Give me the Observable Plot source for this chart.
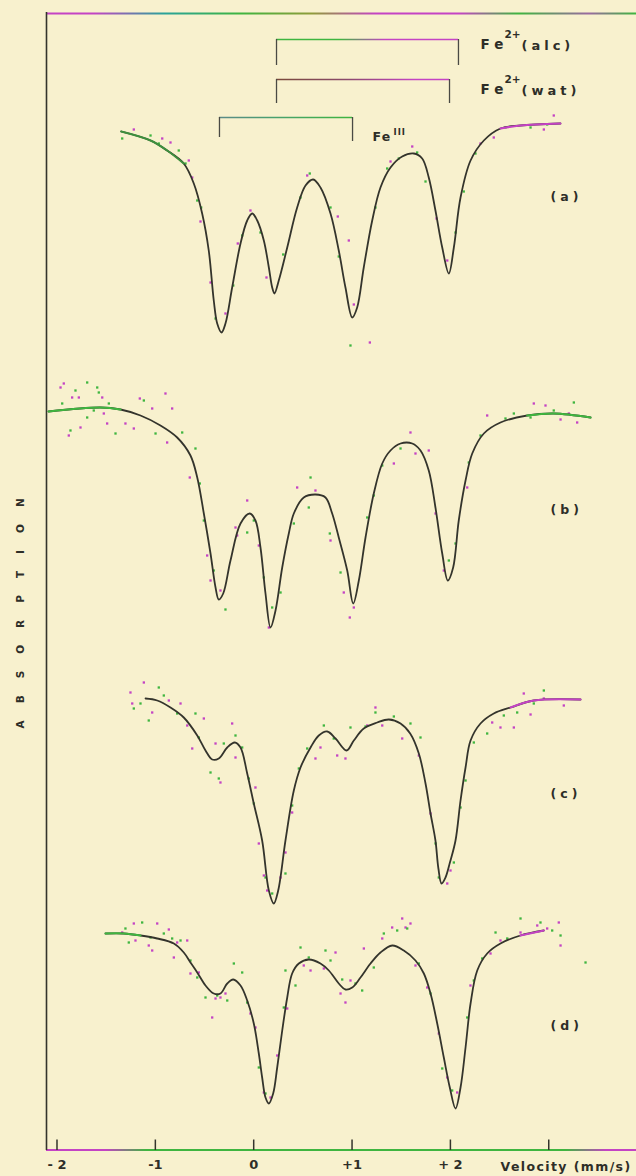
<!DOCTYPE html>
<html><head><meta charset="utf-8">
<script src="https://cdn.jsdelivr.net/npm/d3@7"></script>
<script src="https://cdn.jsdelivr.net/npm/@observablehq/plot@0.6"></script>
<style>
html,body{margin:0;padding:0;background:#f8f1ce;}
#chart svg{display:block;}
</style></head>
<body><div id="chart"></div>
<script>
// ---- axis ticks (velocity, mm/s)
const velocityTicks = [-2, -1, 0, 1, 2, 3];
const tickLabels = ["- 2", "-1", "0", "+1", "+ 2", ""];
const spectrumLabels = ["(a)", "(b)", "(c)", "(d)"];
const spectrumLabelY = [95.4, 64.1, 35.7, 12.45];

// ---- site brackets (velocity of the two lines, bar level, drop level)
const siteBase = ["Fe", "Fe", "Fe"];
const siteSup = ["2+", "2+", "III"];
const siteTail = ["(alc)", "(wat)", ""];
const siteLeft = [0.232, 0.232, -0.348];
const siteRight = [2.082, 1.991, 1.005];
const siteLevel = [111.1, 107.1, 103.3];
const siteDropLeft = [108.5, 104.7, 101.3];
const siteDropRight = [108.5, 104.7, 100.9];
const siteLabelV = [2.306, 2.306, 1.208];
const siteLabelY = [110.15, 105.67, 100.93];

// ---- fitted curves [velocity, absorption (stacked arb. units)]
const fitA = [[-1.347,101.9],[-1.049,101.0],[-0.880,100.0],[-0.711,98.7],[-0.609,96.7],[-0.524,93.7],[-0.457,90.0],[-0.406,85.0],[-0.371,82.7],[-0.327,81.8],[-0.287,82.7],[-0.219,86.3],[-0.134,90.7],[-0.066,93.0],[-0.015,93.7],[0.036,93.0],[0.103,91.0],[0.154,88.3],[0.188,86.3],[0.211,85.7],[0.255,87.0],[0.341,90.3],[0.442,94.3],[0.527,96.5],[0.605,97.1],[0.679,96.3],[0.781,93.7],[0.865,90.0],[0.933,86.3],[1.002,83.3],[1.052,84.3],[1.119,88.3],[1.205,93.0],[1.289,96.3],[1.391,98.3],[1.510,99.4],[1.628,99.7],[1.713,99.2],[1.780,97.3],[1.848,94.0],[1.917,90.3],[1.984,87.7],[2.035,90.3],[2.103,95.3],[2.205,99.0],[2.340,101.0],[2.509,102.2],[2.712,102.5],[3.119,102.7]];
const fitB = [[-2.086,73.9],[-1.558,74.3],[-1.354,74.1],[-1.151,73.5],[-0.948,72.5],[-0.778,71.3],[-0.643,69.5],[-0.574,67.3],[-0.507,63.7],[-0.439,59.7],[-0.388,56.3],[-0.355,55.1],[-0.310,55.7],[-0.236,59.0],[-0.134,62.7],[-0.040,63.7],[0.018,63.0],[0.069,60.3],[0.120,55.7],[0.171,52.3],[0.222,54.0],[0.290,58.3],[0.357,61.7],[0.408,63.7],[0.509,65.3],[0.628,65.6],[0.730,65.3],[0.798,63.7],[0.865,61.3],[0.951,58.0],[1.012,54.7],[1.069,57.0],[1.137,61.3],[1.221,65.7],[1.307,68.7],[1.391,70.0],[1.493,70.7],[1.612,70.7],[1.696,70.0],[1.780,68.0],[1.848,64.3],[1.917,59.7],[1.974,57.0],[2.028,58.3],[2.085,63.0],[2.154,67.0],[2.222,69.7],[2.340,71.7],[2.509,72.8],[2.781,73.5],[3.051,73.7],[3.425,73.3]];
const fitC = [[-1.100,45.2],[-0.981,45.0],[-0.846,44.3],[-0.711,43.3],[-0.574,41.5],[-0.490,40.0],[-0.422,39.1],[-0.355,39.2],[-0.269,40.3],[-0.192,40.8],[-0.134,40.3],[-0.066,37.7],[0.001,34.7],[0.086,31.0],[0.154,26.0],[0.204,24.7],[0.249,26.0],[0.323,31.0],[0.408,36.0],[0.476,38.3],[0.578,40.3],[0.662,41.5],[0.747,41.9],[0.832,41.2],[0.944,40.0],[1.018,41.0],[1.119,42.2],[1.256,42.8],[1.374,43.1],[1.493,42.7],[1.591,41.7],[1.679,39.7],[1.747,36.7],[1.798,33.7],[1.848,31.0],[1.878,28.2],[1.910,26.7],[1.950,27.3],[1.995,28.8],[2.052,31.0],[2.103,35.0],[2.154,38.3],[2.205,41.0],[2.306,42.7],[2.441,43.7],[2.611,44.3],[2.848,45.0],[3.323,45.1]];
const fitD = [[-1.507,21.7],[-1.321,21.7],[-1.151,21.5],[-0.981,21.2],[-0.812,20.7],[-0.711,19.8],[-0.643,18.8],[-0.574,17.8],[-0.490,16.5],[-0.406,15.7],[-0.338,15.7],[-0.269,16.7],[-0.208,17.1],[-0.134,16.5],[-0.066,15.0],[0.001,12.7],[0.052,9.7],[0.086,7.3],[0.120,5.3],[0.154,4.7],[0.198,5.7],[0.239,8.3],[0.290,12.0],[0.341,15.3],[0.391,17.7],[0.459,18.7],[0.560,19.1],[0.679,18.7],[0.764,18.0],[0.865,16.7],[0.933,16.1],[1.002,16.3],[1.086,17.3],[1.188,18.7],[1.289,19.8],[1.408,20.5],[1.526,20.0],[1.645,19.0],[1.730,17.7],[1.798,15.7],[1.866,12.7],[1.933,9.3],[1.994,6.3],[2.052,4.2],[2.103,6.3],[2.154,10.3],[2.205,14.7],[2.273,18.0],[2.374,19.7],[2.509,20.7],[2.712,21.5],[2.950,22.0]];

// ---- measured points (two halves of the spectrum: magenta / green)
const dotsA_m = [[-1.219,102.1],[-0.930,101.2],[-0.846,100.8],[-0.660,99.0],[-0.625,97.3],[-0.541,92.9],[-0.439,86.8],[-0.287,83.7],[-0.162,90.7],[-0.033,94.0],[0.130,87.3],[0.544,97.5],[0.855,93.4],[0.967,91.0],[1.018,84.6],[1.181,80.8],[1.391,98.9],[1.612,100.4],[1.859,93.2],[1.968,89.0],[2.306,100.7],[2.441,101.3],[2.950,102.1],[3.051,103.5]];
const dotsA_g = [[-1.337,101.2],[-1.049,101.5],[-0.965,100.7],[-0.762,100.0],[-0.693,98.7],[-0.574,95.0],[-0.534,94.3],[-0.388,83.2],[-0.208,86.5],[-0.117,91.5],[0.069,91.8],[0.300,89.6],[0.476,95.3],[0.570,97.7],[0.781,94.3],[0.865,89.4],[0.984,80.5],[1.238,94.3],[1.357,98.2],[1.475,99.2],[1.662,99.8],[1.747,96.9],[2.052,91.8],[2.136,95.9],[2.255,99.7],[2.560,102.3],[2.815,102.3],[2.984,102.6]];
const dotsB_m = [[-1.964,76.3],[-1.931,76.7],[-1.846,75.3],[-1.778,75.3],[-1.540,75.3],[-1.524,73.7],[-1.490,72.7],[-1.761,72.3],[-1.880,71.5],[-1.304,72.7],[-1.219,72.2],[-1.158,75.2],[-1.032,74.2],[-0.897,75.7],[-0.829,74.2],[-0.880,70.8],[-0.650,67.3],[-0.473,59.5],[-0.439,57.0],[-0.338,56.0],[-0.185,62.3],[-0.168,61.5],[-0.066,65.0],[0.052,60.5],[0.154,52.3],[0.442,66.3],[0.628,66.0],[0.781,61.0],[0.916,55.8],[0.977,53.3],[1.018,54.3],[1.425,68.7],[1.594,71.8],[1.645,69.7],[1.780,70.0],[1.849,63.7],[1.933,58.0],[2.171,66.3],[2.374,73.5],[2.848,74.7],[2.967,74.5],[3.120,73.1],[3.289,72.8],[3.204,73.7]];
const dotsB_g = [[-1.947,74.7],[-1.812,76.0],[-1.693,76.8],[-1.591,76.3],[-1.575,75.8],[-1.693,73.3],[-1.626,74.0],[-1.863,72.0],[-1.405,71.7],[-1.473,74.7],[-1.117,75.0],[-0.998,71.7],[-0.727,71.8],[-0.592,70.2],[-0.548,66.7],[-0.507,63.0],[-0.406,58.0],[-0.287,54.1],[-0.066,61.8],[0.001,63.0],[0.103,57.3],[0.188,54.3],[0.273,55.8],[0.408,62.7],[0.578,67.3],[0.560,64.3],[0.774,61.7],[0.883,57.8],[1.154,63.3],[1.221,65.5],[1.307,68.5],[1.493,70.2],[1.984,59.0],[2.052,60.7],[2.187,68.8],[2.306,71.5],[2.560,73.2],[2.645,73.7],[2.815,73.3],[3.051,74.0],[3.255,74.8]];
const dotsC_m = [[-1.253,45.8],[-1.235,44.7],[-1.117,46.8],[-1.032,43.8],[-0.863,45.0],[-0.744,44.7],[-0.676,42.5],[-0.625,40.2],[-0.507,43.2],[-0.388,40.7],[-0.338,36.8],[-0.219,42.7],[-0.185,39.3],[0.018,36.3],[0.052,30.7],[0.103,27.5],[0.137,26.0],[0.273,27.3],[0.323,29.8],[0.391,33.8],[0.628,39.2],[0.679,40.3],[0.849,39.5],[0.933,39.2],[1.154,42.5],[1.238,44.3],[1.307,42.5],[1.510,41.2],[1.679,39.5],[1.798,33.7],[1.968,26.7],[2.001,28.0],[2.425,42.8],[2.509,42.3],[2.645,42.3],[2.746,45.7],[2.815,43.6],[2.950,45.2],[3.153,44.5]];
const dotsC_g = [[-1.219,44.2],[-1.151,44.7],[-1.067,43.0],[-0.965,46.3],[-0.914,45.5],[-0.778,43.7],[-0.592,43.7],[-0.558,41.3],[-0.439,37.8],[-0.355,37.2],[-0.304,40.7],[-0.185,41.5],[-0.117,40.3],[-0.050,37.2],[0.001,34.7],[0.120,27.3],[0.188,25.7],[0.323,27.7],[0.391,34.5],[0.459,38.2],[0.544,40.2],[0.713,42.5],[0.814,41.2],[0.984,42.3],[1.137,42.4],[1.238,43.8],[1.425,43.4],[1.594,42.7],[1.696,41.3],[1.849,30.7],[1.882,27.3],[2.035,28.8],[2.103,34.3],[2.154,37.0],[2.238,40.8],[2.374,41.7],[2.543,43.5],[2.679,43.8],[2.848,44.7],[2.950,46.0]];
const dotsD_m = [[-1.337,21.8],[-1.219,22.7],[-1.202,21.0],[-1.067,20.5],[-1.032,20.0],[-0.981,22.7],[-0.863,22.1],[-0.778,20.8],[-0.676,21.0],[-0.812,19.3],[-0.643,17.7],[-0.558,17.8],[-0.422,13.3],[-0.388,15.2],[-0.338,15.3],[-0.287,15.7],[-0.033,13.7],[0.018,12.3],[0.103,5.8],[0.171,5.3],[0.239,9.5],[0.341,14.2],[0.509,18.5],[0.578,18.0],[0.713,18.2],[0.832,19.8],[0.883,15.7],[0.933,14.8],[0.984,17.0],[1.120,20.2],[1.307,21.2],[1.408,22.3],[1.510,23.2],[1.544,22.3],[1.594,22.7],[1.645,18.5],[1.764,16.3],[1.882,11.7],[1.968,7.3],[2.069,5.8],[2.204,16.5],[2.408,19.7],[2.509,21.0],[2.713,21.8],[2.883,22.5],[2.984,22.2],[3.102,22.8],[3.120,20.5]];
const dotsD_g = [[-1.304,22.2],[-1.270,20.8],[-1.134,22.8],[-1.049,21.3],[-0.914,21.7],[-0.829,21.2],[-0.744,21.0],[-0.643,19.0],[-0.574,17.3],[-0.490,15.3],[-0.371,15.5],[-0.269,15.0],[-0.202,18.7],[-0.117,17.8],[-0.066,14.8],[0.052,8.3],[0.120,5.7],[0.306,14.3],[0.323,18.0],[0.425,16.5],[0.476,20.3],[0.560,19.3],[0.730,20.0],[0.781,19.0],[0.900,17.1],[1.035,16.7],[1.103,16.0],[1.221,18.3],[1.323,21.7],[1.459,22.0],[1.561,22.2],[1.679,18.7],[1.798,15.7],[1.917,8.2],[2.018,6.0],[2.171,13.3],[2.238,17.0],[2.323,19.2],[2.459,21.8],[2.578,21.2],[2.713,23.2],[2.916,22.8],[3.035,22.0],[3.120,21.5],[3.374,18.8]];

// ---------------------------------------------------------------
const MAG = "#c443c4", GRN = "#3fb53f", INK = "#34342c";
const FONT = "DejaVu Sans";
const xDomain = [-2.1067, 3.8922];
const yDomain = [0, 113.8];
const fits = [fitA, fitB, fitC, fitD];
const dotsM = [].concat(dotsA_m, dotsB_m, dotsC_m, dotsD_m);
const dotsG = [].concat(dotsA_g, dotsB_g, dotsC_g, dotsD_g);
const X = d => d[0], Y = d => d[1];
const idx = siteBase.map((_, i) => i);
// pen colour at curve ends (recorder pen)
const pens = [
  {fit: fitA, lo: -0.711, loC: "#3e8f3e", hi: 2.509, hiC: MAG},
  {fit: fitB, lo: -1.354, loC: GRN, hi: 2.781, hiC: GRN},
  {fit: fitC, lo: -9, loC: GRN, hi: 2.611, hiC: MAG},
  {fit: fitD, lo: -1.151, loC: GRN, hi: 2.712, hiC: MAG}
];
const penMarks = [];
for (const p of pens) {
  const L = p.fit.filter(d => d[0] <= p.lo), R = p.fit.filter(d => d[0] >= p.hi);
  if (L.length > 1) penMarks.push(Plot.line(L, {x: X, y: Y, stroke: p.loC, strokeWidth: 2, curve: "catmull-rom"}));
  if (R.length > 1) penMarks.push(Plot.line(R, {x: X, y: Y, stroke: p.hiC, strokeWidth: 2, curve: "catmull-rom"}));
}
const i2 = [0, 1], i3 = [2];

const chart = Plot.plot({
  width: 636, height: 1176,
  marginLeft: 46, marginRight: 0, marginTop: 12, marginBottom: 26,
  style: {background: "#f8f1ce", fontFamily: FONT, color: "#2e2e28"},
  x: {domain: xDomain, axis: null},
  y: {domain: yDomain, axis: null},
  marks: [
    // frame
    Plot.ruleY([yDomain[1] - 0.1], {x1: xDomain[0], x2: xDomain[1], stroke: "url(#topGrad)", strokeWidth: 2}),
    Plot.ruleY([0.05], {x1: xDomain[0], x2: xDomain[1], stroke: "url(#botGrad)", strokeWidth: 2}),
    Plot.ruleX([xDomain[0]], {y1: 0, y2: yDomain[1], stroke: INK, strokeWidth: 1.6}),
    Plot.ruleX(velocityTicks, {y1: 0, y2: 1.05, stroke: INK, strokeWidth: 1.5}),
    Plot.text(velocityTicks, {x: d => d, y: 0, text: (d, i) => tickLabels[i], dy: 14, fontSize: 13, fontWeight: "bold", fill: "#2e2e28"}),
    Plot.text(["Velocity (mm/s)"], {x: 2.51, y: -1.6, text: d => d, textAnchor: "start", fontSize: 12.5, fontWeight: "bold", fill: "#2e2e28"}),
    Plot.text(["ABSORPTION"], {x: -2.371, y: 42.2, text: d => d, rotate: -90, textAnchor: "start", fontSize: 10.5, fontWeight: "bold", fill: "#2e2e28"}),
    // brackets
    Plot.ruleY(idx, {y: i => siteLevel[i], x1: i => siteLeft[i], x2: i => siteRight[i], stroke: i => ["url(#alcGrad)", "url(#watGrad)", "url(#fe3Grad)"][i], strokeWidth: 1.6}),
    Plot.ruleX(idx, {x: i => siteLeft[i], y1: i => siteLevel[i], y2: i => siteDropLeft[i], stroke: "#4a4a44", strokeWidth: 1.3}),
    Plot.ruleX(idx, {x: i => siteRight[i], y1: i => siteLevel[i], y2: i => siteDropRight[i], stroke: "#4a4a44", strokeWidth: 1.3}),
    Plot.text(i2, {x: i => siteLabelV[i], y: i => siteLabelY[i], text: i => siteBase[i], textAnchor: "start", lineAnchor: "bottom", fontSize: 13.5, fontWeight: "bold", fill: "#2e2e28"}),
    Plot.text(i2, {x: i => siteLabelV[i], y: i => siteLabelY[i], text: i => siteSup[i], dx: 24, dy: -11, textAnchor: "start", lineAnchor: "bottom", fontSize: 10.5, fontWeight: "bold", fill: "#2e2e28"}),
    Plot.text(i2, {x: i => siteLabelV[i], y: i => siteLabelY[i], text: i => siteTail[i], dx: 41, dy: 1, textAnchor: "start", lineAnchor: "bottom", fontSize: 13, fontWeight: "bold", fill: "#2e2e28"}),
    Plot.text(i3, {x: i => siteLabelV[i], y: i => siteLabelY[i], text: i => siteBase[i], textAnchor: "start", lineAnchor: "bottom", fontSize: 12.5, fontWeight: "bold", fill: "#2e2e28"}),
    Plot.text(i3, {x: i => siteLabelV[i], y: i => siteLabelY[i], text: i => siteSup[i], dx: 21, dy: -6, textAnchor: "start", lineAnchor: "bottom", fontSize: 8.5, fontWeight: "bold", fill: "#2e2e28"}),
    // spectra
    Plot.dot(dotsM, {x: X, y: Y, r: 1.3, fill: MAG, symbol: "square"}),
    Plot.dot(dotsG, {x: X, y: Y, r: 1.3, fill: GRN, symbol: "square"}),
    ...fits.map(f => Plot.line(f, {x: X, y: Y, stroke: INK, strokeWidth: 1.8, curve: "catmull-rom"})),
    ...penMarks,
    Plot.text(spectrumLabels, {x: 3.018, y: (d, i) => spectrumLabelY[i], text: d => d, textAnchor: "start", fontSize: 12.5, fontWeight: "bold", fill: "#2e2e28"})
  ]
});

// gradients for the coloured pen strokes
const sx = chart.scale("x");
const svg = d3.select(chart);
const defs = svg.insert("defs", ":first-child");
function grad(id, x1, x2, stops) {
  const g = defs.append("linearGradient").attr("id", id).attr("gradientUnits", "userSpaceOnUse")
    .attr("x1", x1).attr("x2", x2).attr("y1", 0).attr("y2", 0);
  for (const [o, c] of stops) g.append("stop").attr("offset", o).attr("stop-color", c);
}
const fx0 = sx.apply(xDomain[0]), fx1 = sx.apply(xDomain[1]);
grad("topGrad", fx0, fx1, [[0, MAG], [0.08, MAG], [0.2, "#2aa39a"], [0.33, GRN], [0.45, "#8f9c3a"], [0.56, MAG], [0.7, MAG], [0.8, GRN], [0.92, "#9a6aa0"], [1, GRN]]);
grad("botGrad", fx0, fx1, [[0, MAG], [0.1, MAG], [0.17, GRN], [0.88, GRN], [0.95, MAG], [1, MAG]]);
grad("alcGrad", sx.apply(siteLeft[0]), sx.apply(siteRight[0]), [[0, GRN], [0.35, GRN], [0.6, MAG], [1, MAG]]);
grad("watGrad", sx.apply(siteLeft[1]), sx.apply(siteRight[1]), [[0, "#7a4a3a"], [0.4, "#8a4a6a"], [0.8, MAG], [1, MAG]]);
grad("fe3Grad", sx.apply(siteLeft[2]), sx.apply(siteRight[2]), [[0, "#5c8a88"], [0.4, "#4aa070"], [1, GRN]]);

// letter spacing of the typed labels
const spacing = {"ABSORPTION": 17, "Fe": 5, "(alc)": 4, "(wat)": 4, "(a)": 4, "(b)": 4, "(c)": 4, "(d)": 4, "Velocity (mm/s)": 1.4, "2+": 0, "III": 1};
svg.selectAll("text").each(function () {
  const t = this.textContent;
  if (spacing[t] === undefined) return;
  let s = spacing[t];
  const fs = this.parentNode && this.parentNode.getAttribute("font-size");
  if (t === "Fe" && fs === "12.5") s = 1.2;   // the smaller Fe(III) label
  this.style.letterSpacing = s + "px";
});
document.getElementById("chart").appendChild(chart);
</script></body></html>
